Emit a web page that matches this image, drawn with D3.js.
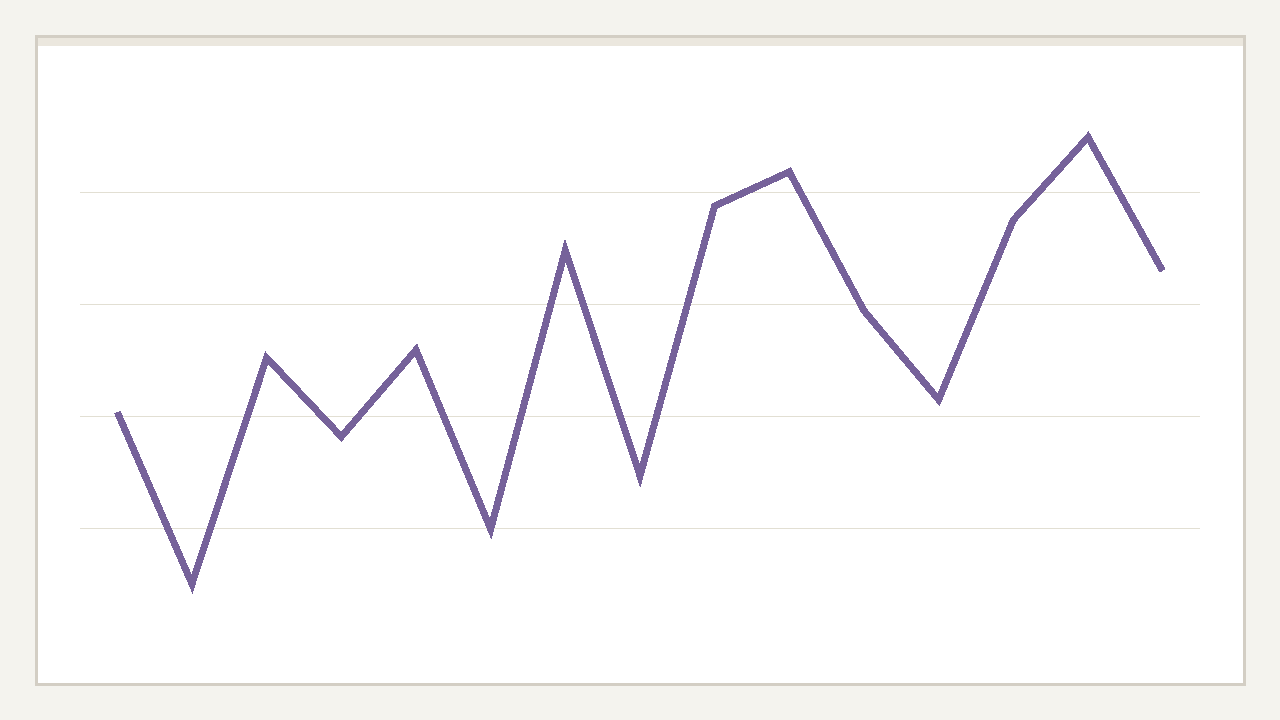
<!DOCTYPE html>
<html>
<head>
<meta charset="utf-8">
<script src="https://cdn.jsdelivr.net/npm/d3@7"></script>
<style>
  html, body { margin: 0; padding: 0; background: #f4f3ee; }
  svg { display: block; }
</style>
</head>
<body>
<div id="chart"></div>
<script>
// data (no labels shown, so categories are just indices)
var categories = ['1', '2', '3', '4', '5', '6', '7', '8', '9', '10', '11', '12', '13', '14', '15'];
var values = [40.7, 10.0, 50.4, 36.3, 51.8, 19.8, 69.6, 29.3, 77.5, 83.6, 58.8, 42.9, 75.0, 89.8, 65.9];
var gridValues = [20, 40, 60, 80];

var width = 1280, height = 720;
var plot = { left: 80, right: 1200, top: 80, bottom: 640 };

var svg = d3.select('#chart').append('svg')
    .attr('width', width)
    .attr('height', height);

svg.append('rect')
    .attr('width', width)
    .attr('height', height)
    .attr('fill', '#f4f3ee');

// card
svg.append('rect')
    .attr('x', 36.5)
    .attr('y', 36.5)
    .attr('width', 1208)
    .attr('height', 648)
    .attr('fill', '#ffffff')
    .attr('stroke', '#d3cec4')
    .attr('stroke-width', 3);

svg.append('rect')
    .attr('x', 38)
    .attr('y', 38)
    .attr('width', 1205)
    .attr('height', 8)
    .attr('fill', '#ebe7de');

var x = d3.scalePoint()
    .domain(categories)
    .range([plot.left, plot.right])
    .padding(0.5);

var y = d3.scaleLinear()
    .domain([0, 100])
    .range([plot.bottom, plot.top]);

// gridlines
svg.append('g')
    .selectAll('line')
    .data(gridValues)
    .enter()
        .append('line')
        .attr('x1', plot.left)
        .attr('x2', plot.right)
        .attr('y1', function(d) { return Math.round(y(d)) + 0.5; })
        .attr('y2', function(d) { return Math.round(y(d)) + 0.5; })
        .attr('stroke', '#e2dfd3')
        .attr('stroke-width', 1)
        .attr('shape-rendering', 'crispEdges');

var line = d3.line()
    .x(function(d, i) { return x(categories[i]); })
    .y(function(d) { return y(d); });

svg.append('path')
    .datum(values)
    .attr('d', line)
    .attr('fill', 'none')
    .attr('stroke', '#76629a')
    .attr('stroke-width', 7)
    .attr('stroke-linejoin', 'miter')
    .attr('stroke-linecap', 'butt')
    .attr('shape-rendering', 'crispEdges');
</script>
</body>
</html>
